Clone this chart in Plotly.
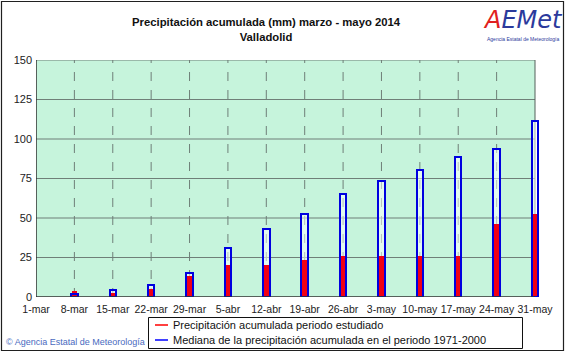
import plotly.graph_objects as go

categories = ["1-mar", "8-mar", "15-mar", "22-mar", "29-mar", "5-abr", "12-abr",
              "19-abr", "26-abr", "3-may", "10-may", "17-may", "24-may", "31-may"]
precip_2014 = [0, 4.0, 2.7, 4.9, 13.3, 20.1, 20.1, 23.2, 26.0, 26.0, 26.0, 26.0, 46.3, 52.8]
mediana_1971_2000 = [0, 1.9, 4.4, 7.4, 15.2, 31.1, 43.1, 52.6, 65.1, 73.3, 80.1, 88.5, 93.8, 111.3]
y_ticks = [0, 25, 50, 75, 100, 125, 150]
legend_labels = ["Precipitación acumulada periodo estudiado",
                 "Mediana de la precipitación acumulada en el periodo 1971-2000"]
legend_colors = ["#ff0000", "#0000ff"]

W, H = 567, 353
L, R, T, B = 36, 26, 60, 56
PW, PH = W - L - R, H - T - B
X0PIX, X13PIX = 36, 535
ppu = (X13PIX - X0PIX) / 13.0
xmax = 13 + (W - R - X13PIX) / ppu


def px(x):
    return (x - L) / PW


def py(y):
    return (H - B - y) / PH


xs = list(range(len(categories)))
nz = lambda v: [None if a == 0 else a for a in v]
FONT = "Arial, Liberation Sans, sans-serif"

fig = go.Figure()
fig.add_trace(go.Bar(x=xs, y=nz(mediana_1971_2000), width=0.18,
                     marker=dict(color="rgba(255,255,255,0.5)", line=dict(width=0)),
                     showlegend=False, hoverinfo="skip"))
fig.add_trace(go.Bar(x=xs, y=nz(precip_2014), width=0.15,
                     marker=dict(color="#f00014", line=dict(width=0)),
                     name=legend_labels[0], showlegend=False))
fig.add_trace(go.Bar(x=xs, y=nz(mediana_1971_2000), width=0.17,
                     marker=dict(color="rgba(0,0,0,0)", line=dict(width=2, color="#0000e0")),
                     name=legend_labels[1], showlegend=False))

shapes = []
# plot background
shapes.append(dict(type="rect", xref="x", yref="y", x0=0, x1=13, y0=0, y1=150,
                   fillcolor="#c6f4dc", line=dict(width=0), layer="below"))
# horizontal grid lines
for v in y_ticks[1:]:
    shapes.append(dict(type="line", xref="x", yref="y", x0=0, x1=13, y0=v, y1=v,
                       line=dict(color="#6f7f78", width=1), layer="below"))
# vertical dashed grid lines
for i in range(1, 13):
    shapes.append(dict(type="line", xref="x", yref="y", x0=i, x1=i, y0=0, y1=150,
                       line=dict(color="#6f7f78", width=1, dash="dash"), layer="below"))
shapes.append(dict(type="line", xref="x", yref="y", x0=13, x1=13, y0=0, y1=150,
                   line=dict(color="#55605a", width=1), layer="below"))
# axes lines
shapes.append(dict(type="line", xref="x", yref="y", x0=0, x1=0, y0=0, y1=150,
                   line=dict(color="#303030", width=1.5)))
shapes.append(dict(type="line", xref="x", yref="y", x0=0, x1=13, y0=0, y1=0,
                   line=dict(color="#303030", width=1.5)))
# outer frame
shapes.append(dict(type="rect", xref="paper", yref="paper", x0=px(1.5), x1=px(563.5),
                   y0=py(350.5), y1=py(1.5), line=dict(color="#202020", width=1.2)))
# legend box
shapes.append(dict(type="rect", xref="paper", yref="paper", x0=px(148.5), x1=px(522.5),
                   y0=py(348.5), y1=py(317.5), fillcolor="white",
                   line=dict(color="#111111", width=1)))

annotations = [
    dict(xref="paper", yref="paper", x=px(266), y=py(29), xanchor="center", yanchor="middle",
         text="<b>Precipitación acumulada (mm) marzo - mayo 2014</b><br><b>Valladolid</b>",
         showarrow=False, font=dict(family=FONT, size=11.3, color="#111111")),
    dict(xref="paper", yref="paper", x=px(523), y=py(20), xanchor="center", yanchor="middle",
         text="<i><span style='color:#e02020'>A</span><span style='color:#2b3a9c'>EMet</span></i>",
         showarrow=False, font=dict(family="DejaVu Sans, sans-serif", size=24)),
    dict(xref="paper", yref="paper", x=px(523), y=py(39), xanchor="center", yanchor="middle",
         text="Agencia Estatal de Meteorología", showarrow=False,
         font=dict(family=FONT, size=5, color="#2b3a9c")),
    dict(xref="paper", yref="paper", x=px(4), y=py(342), xanchor="left", yanchor="middle",
         text="© Agencia Estatal de Meteorología", showarrow=False,
         font=dict(family=FONT, size=9, color="#4a6ac0")),
]

# legend entries (line sample + text)
for k, (lab, col) in enumerate(zip(legend_labels, legend_colors)):
    yy = 325 + 15 * k
    shapes.append(dict(type="line", xref="paper", yref="paper", x0=px(155), x1=px(168),
                       y0=py(yy), y1=py(yy), line=dict(color=col, width=1.5)))
    annotations.append(dict(xref="paper", yref="paper", x=px(171), y=py(yy),
                            xanchor="left", yanchor="middle", text=lab, showarrow=False,
                            font=dict(family=FONT, size=11, color="#111111")))

fig.update_layout(
    width=W, height=H,
    margin=dict(l=L, r=R, t=T, b=B, pad=0, autoexpand=False),
    paper_bgcolor="white", plot_bgcolor="white",
    barmode="overlay", bargap=0,
    font=dict(family=FONT, size=11, color="#222222"),
    xaxis=dict(range=[0, xmax], tickmode="array", tickvals=xs, ticktext=categories,
               showgrid=False, zeroline=False, showline=False, ticks="",
               tickangle=0, tickfont=dict(size=10.5), ticklabelstandoff=4, fixedrange=True),
    yaxis=dict(range=[0, 150], tickmode="array", tickvals=y_ticks,
               showgrid=False, zeroline=False, showline=False, ticks="",
               tickfont=dict(size=11), ticklabelstandoff=3, fixedrange=True),
    shapes=shapes, annotations=annotations,
    showlegend=False,
)

fig.write_html("out.html")
